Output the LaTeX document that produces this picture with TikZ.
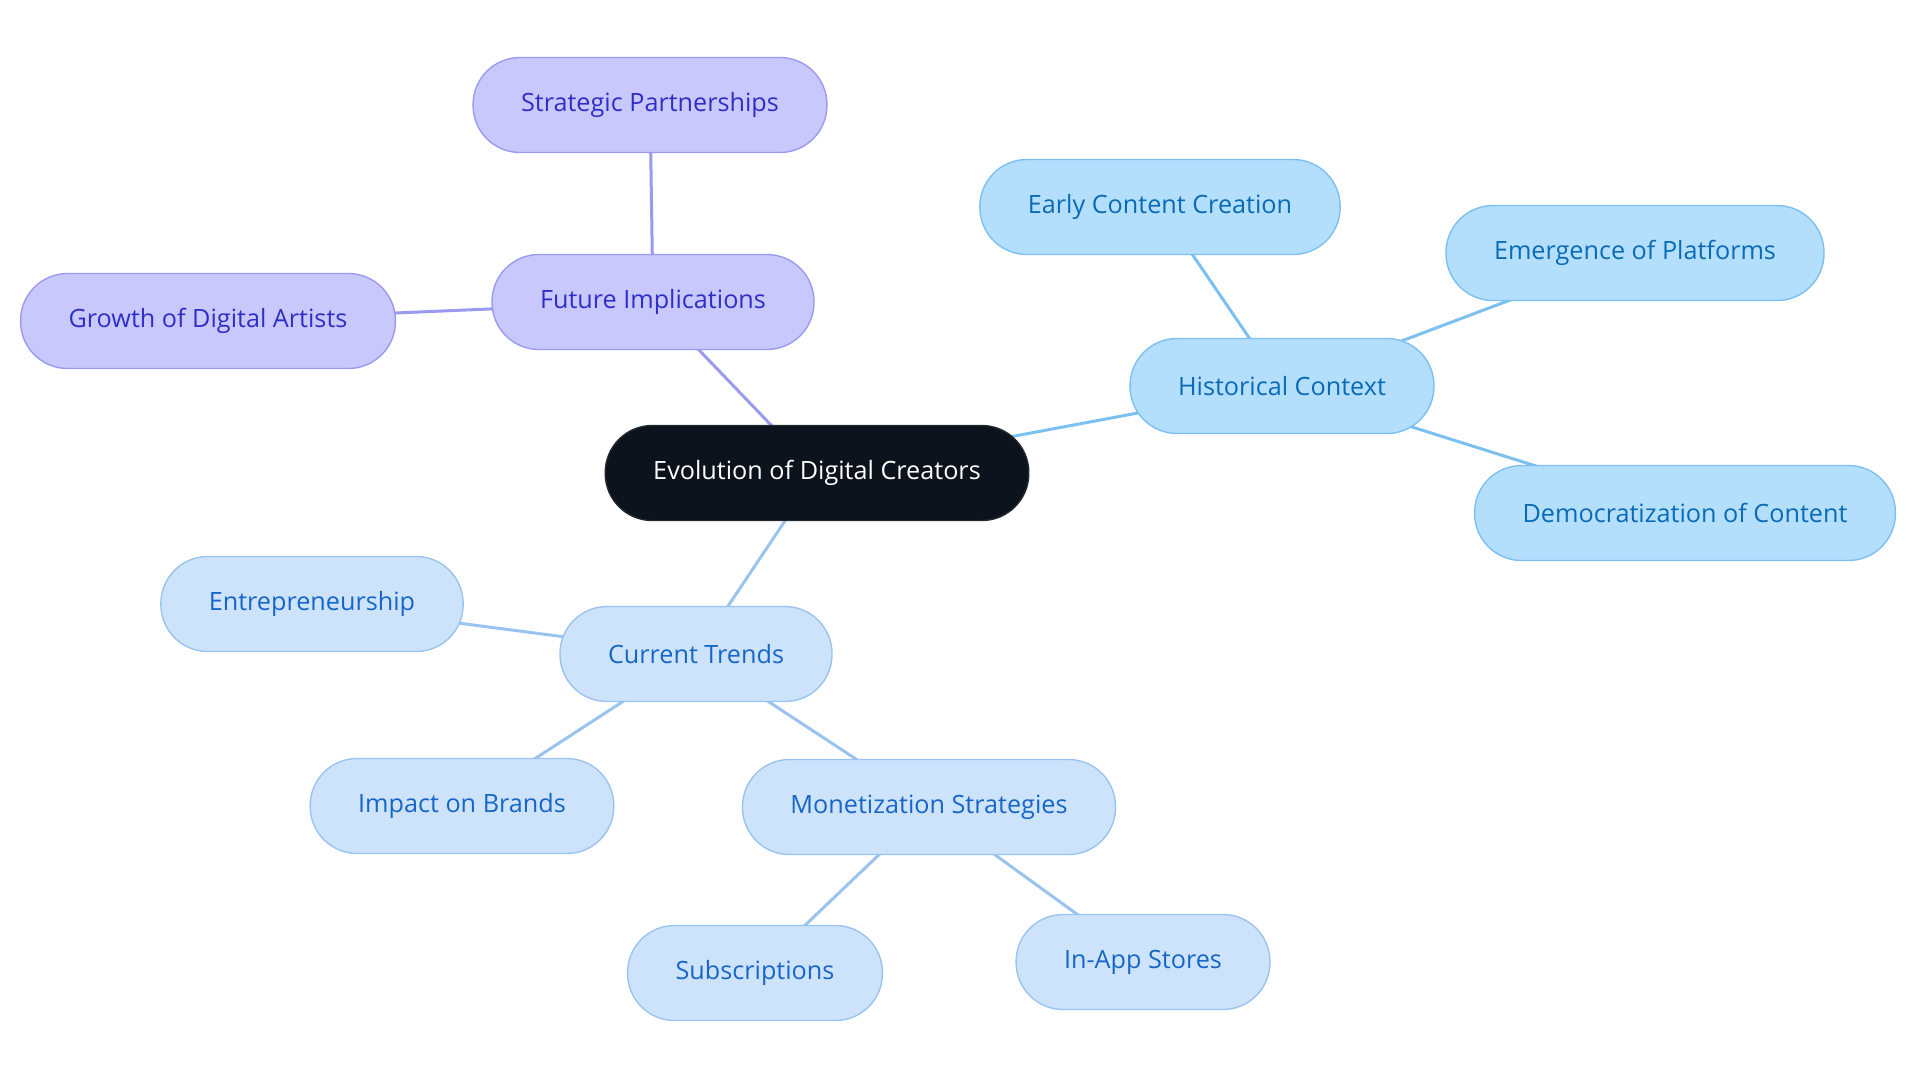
\documentclass[tikz,border=0pt]{standalone}
\usepackage{fontspec}
\setmainfont{Open Sans}
\usetikzlibrary{backgrounds}
\definecolor{rootfill}{HTML}{0D131C}
\definecolor{histfill}{HTML}{B3DFFC}
\definecolor{histline}{HTML}{7CC0F0}
\definecolor{histtext}{HTML}{0A6AB5}
\definecolor{futfill}{HTML}{C8C8FD}
\definecolor{futline}{HTML}{9A9AF0}
\definecolor{futtext}{HTML}{2F2FC8}
\definecolor{curfill}{HTML}{CDE3FB}
\definecolor{curline}{HTML}{9AC4EF}
\definecolor{curtext}{HTML}{1766C7}
\tikzset{
  topic/.style={rectangle, rounded corners=23.5pt, minimum height=47.5pt,
    inner xsep=24pt, line width=0.7pt, font=\fontsize{12.6}{15}\selectfont},
  rootnode/.style={topic, fill=rootfill, draw=rootfill!80!gray, text=white},
  histnode/.style={topic, fill=histfill, draw=histline, text=histtext},
  futnode/.style={topic, fill=futfill, draw=futline, text=futtext},
  curnode/.style={topic, fill=curfill, draw=curline, text=curtext},
  link/.style={line width=1.5pt}
}
\begin{document}
\begin{tikzpicture}[x=0.5pt, y=-0.5pt]
    \useasboundingbox (0,0) rectangle (1920,1083);

    % Central node
    \node[rootnode] (root) at (817,473) {Evolution of Digital Creators};

    % Historical branch
    \node[histnode] (hist) at (1282,386) {Historical Context};
    \node[histnode] (early) at (1160,207) {Early Content Creation};
    \node[histnode] (platf) at (1635,253) {Emergence of Platforms};
    \node[histnode] (democ) at (1685,513) {Democratization of Content};

    % Future branch
    \node[futnode] (future) at (653,302) {Future Implications};
    \node[futnode] (partner) at (650,105) {Strategic Partnerships};
    \node[futnode] (artists) at (208,321) {Growth of Digital Artists};

    % Current branch
    \node[curnode] (current) at (696,654) {Current Trends};
    \node[curnode] (entre) at (312,604) {Entrepreneurship};
    \node[curnode] (brands) at (462,806) {Impact on Brands};
    \node[curnode] (monet) at (929,807) {Monetization Strategies};
    \node[curnode] (subs) at (755,973) {Subscriptions};
    \node[curnode] (inapp) at (1143,962) {In-App Stores};

    % Connectors, behind the nodes
    \begin{pgfonlayer}{background}
    \draw[link, histline] (root.center) -- (hist.center);
    \draw[link, histline] (hist.center) -- (early.center);
    \draw[link, histline] (hist.center) -- (platf.center);
    \draw[link, histline] (hist.center) -- (democ.center);
    \draw[link, futline] (root.center) -- (future.center);
    \draw[link, futline] (future.center) -- (partner.center);
    \draw[link, futline] (future.center) -- (artists.center);
    \draw[link, curline] (root.center) -- (current.center);
    \draw[link, curline] (current.center) -- (entre.center);
    \draw[link, curline] (current.center) -- (brands.center);
    \draw[link, curline] (current.center) -- (monet.center);
    \draw[link, curline] (monet.center) -- (subs.center);
    \draw[link, curline] (monet.center) -- (inapp.center);
    \end{pgfonlayer}

\end{tikzpicture}
\end{document}
